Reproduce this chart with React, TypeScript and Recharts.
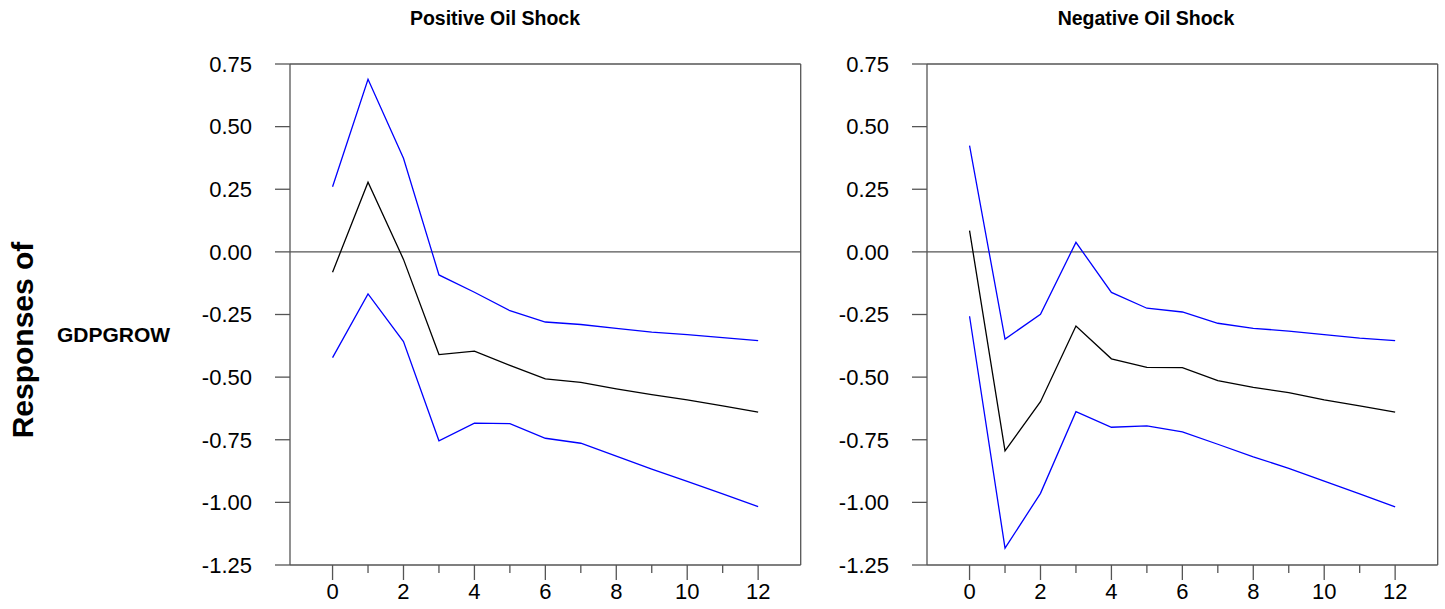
import React from "react";
import { LineChart, Line, XAxis, YAxis, ReferenceLine } from "recharts";

const horizons = [0, 1, 2, 3, 4, 5, 6, 7, 8, 9, 10, 11, 12];

// Positive oil shock: response of GDPGROW with upper / lower bands
const posUpper = [0.26, 0.689, 0.374, -0.092, -0.161, -0.235, -0.28, -0.29, -0.305, -0.32, -0.33, -0.342, -0.354];
const posResp = [-0.081, 0.278, -0.03, -0.41, -0.396, -0.453, -0.507, -0.521, -0.547, -0.57, -0.591, -0.615, -0.64];
const posLower = [-0.422, -0.168, -0.358, -0.754, -0.684, -0.686, -0.744, -0.764, -0.815, -0.867, -0.916, -0.966, -1.017];

// Negative oil shock
const negUpper = [0.424, -0.348, -0.249, 0.038, -0.162, -0.225, -0.24, -0.285, -0.305, -0.316, -0.33, -0.344, -0.354];
const negResp = [0.085, -0.794, -0.598, -0.296, -0.427, -0.461, -0.462, -0.514, -0.541, -0.562, -0.591, -0.615, -0.64];
const negLower = [-0.257, -1.183, -0.964, -0.638, -0.7, -0.695, -0.719, -0.768, -0.818, -0.864, -0.915, -0.966, -1.018];

const yTicks = [-1.25, -1.0, -0.75, -0.5, -0.25, 0, 0.25, 0.5, 0.75];
const xTicks = [0, 1, 2, 3, 4, 5, 6, 7, 8, 9, 10, 11, 12];
const X_DOMAIN: [number, number] = [-1.2, 13.2];
const Y_DOMAIN: [number, number] = [-1.25, 0.75];

const FONT = "'Liberation Sans', Arial, Helvetica, sans-serif";
const AXIS = "#555";
const TICK_SIZE = 15;
const TICK_MARGIN = 3;

function XTick({ x, y, payload }: any) {
  const v = payload.value as number;
  const major = v % 2 === 0;
  const axisY = y - TICK_MARGIN - TICK_SIZE;
  return (
    <g>
      <line x1={x} x2={x} y1={axisY} y2={axisY + (major ? 15 : 8)} stroke={AXIS} strokeWidth={1.3} />
      {major && (
        <text x={x} y={y} dy="0.71em" textAnchor="middle" fontSize={22} fill="#000" fontFamily={FONT}>
          {v}
        </text>
      )}
    </g>
  );
}

function Panel({ upper, resp, lower, left }: { upper: number[]; resp: number[]; lower: number[]; left: number }) {
  const rows = horizons.map((h, i) => ({ h, upper: upper[i], resp: resp[i], lower: lower[i] }));
  return (
    <div style={{ position: "absolute", left, top: 0 }}>
      <LineChart width={808} height={609} data={rows} margin={{ top: 64, right: 7.3, bottom: 4, left: 200 }}>
        <XAxis
          dataKey="h"
          type="number"
          domain={X_DOMAIN}
          ticks={xTicks}
          allowDataOverflow
          tickLine={false}
          tickSize={TICK_SIZE}
          tickMargin={TICK_MARGIN}
          tick={<XTick />}
          height={40}
          axisLine={{ stroke: AXIS, strokeWidth: 1.3 }}
        />
        <YAxis
          type="number"
          domain={Y_DOMAIN}
          ticks={yTicks}
          allowDataOverflow
          width={90}
          tickSize={TICK_SIZE}
          tickMargin={23}
          tickFormatter={(v: number) => v.toFixed(2)}
          tick={{ fontSize: 22, fill: "#000", fontFamily: FONT }}
          tickLine={{ stroke: AXIS, strokeWidth: 1.3 }}
          axisLine={{ stroke: AXIS, strokeWidth: 1.3 }}
        />
        <ReferenceLine y={0.75} stroke={AXIS} strokeWidth={1.3} />
        <ReferenceLine x={13.2} stroke={AXIS} strokeWidth={1.3} />
        <ReferenceLine y={0} stroke={AXIS} strokeWidth={1.3} />
        <Line dataKey="upper" stroke="#0000ff" strokeWidth={1.3} dot={false} isAnimationActive={false} />
        <Line dataKey="resp" stroke="#000000" strokeWidth={1.3} dot={false} isAnimationActive={false} />
        <Line dataKey="lower" stroke="#0000ff" strokeWidth={1.3} dot={false} isAnimationActive={false} />
      </LineChart>
    </div>
  );
}

export default function App() {
  return (
    <div
      style={{
        position: "absolute",
        left: 0,
        top: 0,
        width: 1445,
        height: 609,
        overflow: "hidden",
        background: "#fff",
        fontFamily: FONT,
      }}
    >
      <Panel upper={posUpper} resp={posResp} lower={posLower} left={0} />
      <Panel upper={negUpper} resp={negResp} lower={negLower} left={636.7} />

      <div style={{ position: "absolute", left: 295, width: 400, top: 7, textAlign: "center", fontWeight: "bold", fontSize: 19.5 }}>
        Positive Oil Shock
      </div>
      <div style={{ position: "absolute", left: 946, width: 400, top: 7, textAlign: "center", fontWeight: "bold", fontSize: 19.5 }}>
        Negative Oil Shock
      </div>
      <div
        style={{
          position: "absolute",
          left: 23,
          top: 340,
          transform: "translate(-50%, -50%) rotate(-90deg)",
          whiteSpace: "nowrap",
          fontWeight: "bold",
          fontSize: 30,
        }}
      >
        Responses of
      </div>
      <div style={{ position: "absolute", left: 57, top: 323, fontWeight: "bold", fontSize: 21 }}>GDPGROW</div>
    </div>
  );
}
